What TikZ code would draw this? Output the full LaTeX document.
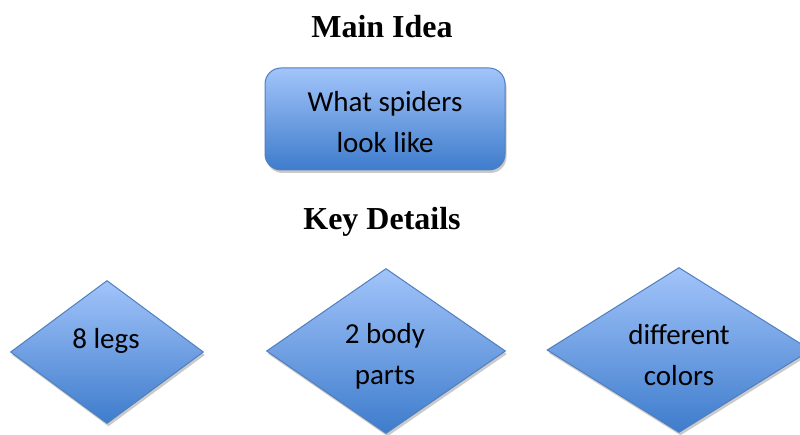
\documentclass[tikz,border=0pt]{standalone}
\usepackage{fontspec}
\setmainfont{Liberation Serif}
\newfontfamily\bodyfont{Carlito}
\usetikzlibrary{shapes.geometric,shadows}
\definecolor{topblue}{HTML}{A2C4FA}
\definecolor{botblue}{HTML}{3E7CCC}
\definecolor{edgeblue}{HTML}{4F7FBE}
\tikzset{
  x=1pt, y=-1pt,
  shapefill/.style={draw=edgeblue, line width=1pt, top color=topblue, bottom color=botblue,
    drop shadow={shadow xshift=1.5pt, shadow yshift=-3pt, fill=black!35, opacity=0.6}},
  ideabox/.style={shapefill, rectangle, rounded corners=16pt, minimum width=240pt, minimum height=102pt, inner sep=0pt},
  detail/.style={shapefill, diamond, inner sep=0pt},
  bodytext/.style={font=\bodyfont\fontsize{29}{41}\selectfont, align=center, text=black},
  heading/.style={font=\bfseries\fontsize{32}{36}\selectfont, text=black}
}
\begin{document}
\begin{tikzpicture}
\useasboundingbox (0,0) rectangle (800,435);
\clip (0,0) rectangle (800,435);
\node[heading] (main) at (382,27) {Main Idea};
\node[ideabox] (idea) at (385,119) {};
\node[bodytext] (ideatxt) at (385,122) {What spiders\\look like};
\node[heading] (key) at (382,222) {Key Details};
\node[detail, minimum width=193pt, minimum height=143pt] (d1) at (107,352) {};
\node[bodytext] (d1txt) at (106,341) {8 legs};
\node[detail, minimum width=239pt, minimum height=165pt] (d2) at (386,351) {};
\node[bodytext] (d2txt) at (385,356) {2 body\\parts};
\node[detail, minimum width=264pt, minimum height=165pt] (d3) at (679,350) {};
\node[bodytext] (d3txt) at (679,355) {different\\colors};
\end{tikzpicture}
\end{document}
